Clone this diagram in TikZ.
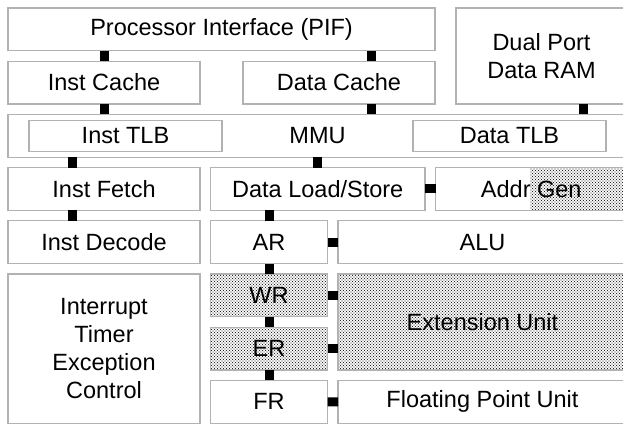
\documentclass[tikz,border=0pt]{standalone}
\usepackage{fontspec}
\setmainfont{Liberation Sans}
\usetikzlibrary{positioning,patterns}

\pgfdeclarepatternformonly{xdots}{\pgfqpoint{-1pt}{-1pt}}{\pgfqpoint{4pt}{4pt}}{\pgfqpoint{3pt}{3pt}}{
  \pgfpathcircle{\pgfqpoint{0pt}{0pt}}{.72pt}
  \pgfpathcircle{\pgfqpoint{1.5pt}{1.5pt}}{.72pt}
  \pgfusepathqfill
}

\begin{document}
\begin{tikzpicture}[
    node distance=10.5pt,
    font=\fontsize{23.5}{28}\selectfont,
    box/.style={draw=black!30, line width=1.2pt, inner sep=0pt, outer sep=0pt, align=center,
      minimum height=42.7pt, text=black},
    hatch/.style={pattern=xdots, pattern color=black!85},
    link/.style={line width=9pt, black}
  ]
  \useasboundingbox (0,0) rectangle (623pt,-424pt);

  \node [box, anchor=north west, minimum width=427pt] (pif) at (8pt,-8pt) {Processor Interface (PIF)};
  \node [box, right=21pt of pif.north east, anchor=north west, minimum width=171pt,
    minimum height=95.9pt] (dpram) {Dual Port\\Data RAM};
  \node [box, below right=10.5pt and 0pt of pif.south west, minimum width=192pt] (icache) {Inst Cache};
  \node [box, below left=10.5pt and 0pt of pif.south east, minimum width=192pt] (dcache) {Data Cache};

  \node [box, below right=10.5pt and 0pt of icache.south west, minimum width=619pt] (mmu) {MMU};
  \node [box, below right=6pt and 21pt of mmu.north west, minimum width=193pt,
    minimum height=30.7pt] (itlb) {Inst TLB};
  \node [box, below left=6pt and 21pt of mmu.north east, minimum width=193pt,
    minimum height=30.7pt] (dtlb) {Data TLB};

  \node [box, below right=10.5pt and 0pt of mmu.south west, minimum width=192pt] (ifetch) {Inst Fetch};
  \node [box, right=of ifetch, minimum width=214.5pt] (dls) {Data Load/Store};
  \node [box, right=of dls, minimum width=191.5pt,
    path picture={\fill [hatch] ([xshift=94.5pt]path picture bounding box.north west)
      rectangle (path picture bounding box.south east);}] (addr) {Addr Gen};

  \node [box, below=of ifetch, minimum width=192pt] (idecode) {Inst Decode};
  \node [box, below right=10.5pt and 0pt of dls.south west, minimum width=117pt] (ar) {AR};
  \node [box, right=of ar, minimum width=289pt] (alu) {ALU};

  \node [box, below=of idecode, minimum width=192pt, minimum height=149.1pt] (intr) {Interrupt\\Timer\\Exception\\Control};
  \node [box, hatch, below=of ar, minimum width=117pt] (wr) {WR};
  \node [box, hatch, below=of wr, minimum width=117pt] (er) {ER};
  \node [box, below=of er, minimum width=117pt] (fr) {FR};
  \node [box, hatch, below=of alu, minimum width=289pt, minimum height=95.9pt] (ext) {Extension Unit};
  \node [box, below=of ext, minimum width=289pt] (fpu) {Floating Point Unit};

  \draw [link] (icache.north) -- (icache.north |- pif.south);
  \draw [link] ([xshift=32pt]dcache.north) -- ([xshift=32pt]dcache.north |- pif.south);
  \draw [link] (icache.south) -- (icache.south |- mmu.north);
  \draw [link] ([xshift=32pt]dcache.south) -- ([xshift=32pt]dcache.south |- mmu.north);
  \draw [link] ([xshift=42pt]dpram.south) -- ([xshift=42pt]dpram.south |- mmu.north);
  \draw [link] ([xshift=-32pt]ifetch.north) -- ([xshift=-32pt]ifetch.north |- mmu.south);
  \draw [link] (dls.north) -- (dls.north |- mmu.south);
  \draw [link] ([xshift=-32pt]ifetch.south) -- ([xshift=-32pt]idecode.north);
  \draw [link] (dls.east) -- (addr.west);
  \draw [link] (ar.north) -- (ar.north |- dls.south);
  \draw [link] (ar.east) -- (alu.west);
  \draw [link] (ar.south) -- (wr.north);
  \draw [link] (wr.east) -- (wr.east -| ext.west);
  \draw [link] (wr.south) -- (er.north);
  \draw [link] (er.east) -- (er.east -| ext.west);
  \draw [link] (er.south) -- (fr.north);
  \draw [link] (fr.east) -- (fpu.west);
\end{tikzpicture}
\end{document}
